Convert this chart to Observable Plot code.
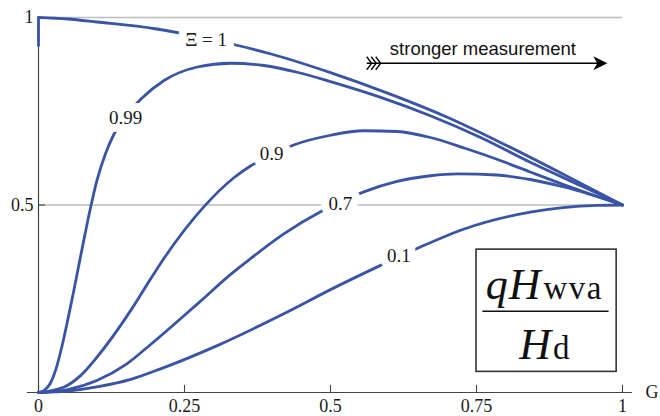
<!DOCTYPE html>
<html><head><meta charset="utf-8">
<script src="https://cdn.jsdelivr.net/npm/d3@7"></script>
<script src="https://cdn.jsdelivr.net/npm/@observablehq/plot@0.6"></script>
<style>body{margin:0;background:#fff}</style>
</head><body><div id="chart"></div>
<script>
// ---- data ----
const xiValues = [1, 0.99, 0.9, 0.7, 0.1];
const curveLabels = ["Ξ = 1", "0.99", "0.9", "0.7", "0.1"];
const labelG = [0.287, 0.149, 0.399, 0.517, 0.617];
const labelV = [0.939, 0.733, 0.635, 0.502, 0.363];

const xi1G = [0, 0.05, 0.1, 0.2, 0.3, 0.4, 0.5, 0.6, 0.7, 0.8, 0.9, 1];
const xi1V = [1, 0.996, 0.988, 0.970, 0.940, 0.902, 0.853, 0.797, 0.734, 0.660, 0.581, 0.5];
const xi1Jump = [0.921, 1];

const xi099G = [0, 0.01, 0.02, 0.03, 0.04, 0.05, 0.06, 0.07, 0.08, 0.089, 0.1, 0.115, 0.129, 0.149, 0.175, 0.215, 0.272, 0.329, 0.386, 0.443, 0.5, 0.586, 0.671, 0.757, 0.842, 0.928, 1];
const xi099V = [0, 0.006, 0.024, 0.063, 0.122, 0.193, 0.268, 0.347, 0.425, 0.492, 0.565, 0.638, 0.688, 0.737, 0.782, 0.832, 0.868, 0.878, 0.872, 0.854, 0.829, 0.787, 0.738, 0.680, 0.614, 0.552, 0.5];

const xi09G = [0, 0.043, 0.072, 0.1, 0.158, 0.192, 0.215, 0.283, 0.334, 0.363, 0.399, 0.437, 0.5, 0.557, 0.614, 0.671, 0.729, 0.785, 0.842, 0.9, 1];
const xi09V = [0, 0.014, 0.045, 0.094, 0.219, 0.303, 0.358, 0.495, 0.572, 0.604, 0.634, 0.66, 0.686, 0.698, 0.696, 0.68, 0.652, 0.622, 0.588, 0.554, 0.5];

const xi07G = [0, 0.05, 0.1, 0.15, 0.192, 0.277, 0.329, 0.363, 0.42, 0.483, 0.517, 0.557, 0.614, 0.671, 0.717, 0.785, 0.842, 0.9, 1];
const xi07V = [0, 0.008, 0.032, 0.075, 0.128, 0.243, 0.315, 0.357, 0.423, 0.482, 0.508, 0.535, 0.563, 0.578, 0.583, 0.580, 0.568, 0.548, 0.5];

const xi01G = [0, 0.05, 0.1, 0.158, 0.209, 0.306, 0.42, 0.506, 0.583, 0.617, 0.654, 0.729, 0.842, 0.957, 1];
const xi01V = [0, 0.004, 0.015, 0.035, 0.063, 0.125, 0.21, 0.279, 0.337, 0.362, 0.388, 0.436, 0.481, 0.499, 0.5];

const xTicks = [0, 0.25, 0.5, 0.75, 1];
const xTickLabels = ["0", "0.25", "0.5", "0.75", "1"];
const yTicks = [0.5, 1];
const yTickLabels = ["0.5", "1"];
const gridV = [0.5, 1];
const axisLabel = ["G"];
const arrowText = ["stronger measurement"];
const arrowFromTo = [0.562, 0.974];
const arrowV = [0.878];
const fracNum = ["qH", "wva"];
const fracDen = ["H", "d"];

// ---- build table ----
const curveG = [xi1G, xi099G, xi09G, xi07G, xi01G];
const curveV = [xi1V, xi099V, xi09V, xi07V, xi01V];
const rows = [];
curveG.forEach((gs, k) => gs.forEach((g, i) => rows.push({xi: xiValues[k], G: g, v: curveV[k][i]})));
const labels = curveLabels.map((t, i) => ({t, G: labelG[i], v: labelV[i]}));

const blue = "#3a54a5";
const ink = "#1a1a1a";
const axisCol = "#444";
const serif = "'Liberation Serif', 'Times New Roman', serif";
const sans = "'Liberation Sans', Arial, sans-serif";

const arrowHead = {draw(ctx) { ctx.moveTo(0, 0); ctx.lineTo(-14, -7); ctx.lineTo(-10, 0); ctx.lineTo(-14, 7); ctx.closePath(); }};
const fletch = {draw(ctx) { for (let i = 0; i < 3; i++) { const x0 = i * 4.5; ctx.moveTo(x0, -6.5); ctx.lineTo(x0 + 5, 0); ctx.lineTo(x0, 6.5); } }};

const chart = Plot.plot({
  width: 660, height: 416,
  marginLeft: 38, marginRight: 38, marginTop: 17, marginBottom: 24,
  x: {domain: [0, 1], axis: null},
  y: {domain: [0, 1], axis: null},
  style: {fontFamily: serif, background: "white", overflow: "visible"},
  marks: [
    Plot.ruleY(gridV, {x1: 0, x2: 1, stroke: "#bdbdbd", strokeWidth: 1.3}),
    Plot.ruleX([0], {y1: 0, y2: 1, stroke: axisCol, strokeWidth: 1.2}),
    Plot.ruleY([0], {x1: -0.019, x2: 1.017, stroke: axisCol, strokeWidth: 1.2}),
    Plot.ruleX(xTicks, {y1: 0, y2: 0.019, stroke: axisCol, strokeWidth: 1.1}),
    Plot.ruleY(yTicks, {x1: 0, x2: 0.012, stroke: axisCol, strokeWidth: 1.1}),
    Plot.line(rows, {x: "G", y: "v", z: "xi", stroke: blue, strokeWidth: 2.8, curve: "monotone-x"}),
    Plot.ruleX([0], {y1: xi1Jump[0], y2: xi1Jump[1], stroke: blue, strokeWidth: 2.8}),
    Plot.text(labels, {x: "G", y: "v", text: "t", fill: ink, stroke: "white", strokeWidth: 16, fontSize: 19, lineAnchor: "middle"}),
    Plot.text(xTicks, {x: d => d, y: 0, text: (d, i) => xTickLabels[i], dy: 14, fontSize: 18, fill: ink, lineAnchor: "middle"}),
    Plot.text(yTicks, {x: 0, y: d => d, text: (d, i) => yTickLabels[i], dx: -5, textAnchor: "end", fontSize: 18, fill: ink, lineAnchor: "middle"}),
    Plot.text(axisLabel, {x: 1, y: 0, text: d => d, dx: 23, textAnchor: "start", fontSize: 18, fill: ink, lineAnchor: "middle"}),
    Plot.link(arrowV, {x1: arrowFromTo[0], x2: arrowFromTo[1] - 0.015, y1: d => d, y2: d => d, stroke: "black", strokeWidth: 1.6}),
    Plot.dot(arrowV, {x: arrowFromTo[1], y: d => d, symbol: arrowHead, fill: "black", stroke: "none"}),
    Plot.dot(arrowV, {x: arrowFromTo[0], y: d => d, symbol: fletch, fill: "none", stroke: "black", strokeWidth: 1.3}),
    Plot.text(arrowText, {x: (arrowFromTo[0] + arrowFromTo[1]) / 2 - 0.007, y: arrowV[0], text: d => d, dy: -8, lineAnchor: "bottom", fontSize: 18.5, fill: "#111"}),
    Plot.rect([0], {x1: 0.75, x2: 0.99, y1: 0.055, y2: 0.381, fill: "white", stroke: "#333", strokeWidth: 1.6}),
    Plot.ruleY([0.217], {x1: 0.761, x2: 0.977, stroke: "#111", strokeWidth: 1.5})
  ]
});

// fraction label inside the box, positioned through the plot's scales
const X = chart.scale("x"), Y = chart.scale("y");
const g = d3.select(chart).append("g").attr("fill", "#111").attr("text-anchor", "middle");
const num = g.append("text").attr("x", X.apply(0.867)).attr("y", Y.apply(0.247)).style("font-size", "44px");
num.append("tspan").style("font-style", "italic").style("letter-spacing", "1px").text(fracNum[0]);
num.append("tspan").style("font-size", "33px").style("letter-spacing", "1.5px").attr("dx", 2).text(fracNum[1]);
const den = g.append("text").attr("x", X.apply(0.867)).attr("y", Y.apply(0.087)).style("font-size", "44px");
den.append("tspan").style("font-style", "italic").text(fracDen[0]);
den.append("tspan").style("font-size", "33px").attr("dx", 2).text(fracDen[1]);

// fonts set inline on every text element
d3.select(chart).selectAll("text, tspan").each(function() {
  const isSans = this.textContent === arrowText[0];
  this.style.setProperty("font-family", isSans ? sans : serif, "important");
});

document.getElementById("chart").appendChild(chart);
</script></body></html>
